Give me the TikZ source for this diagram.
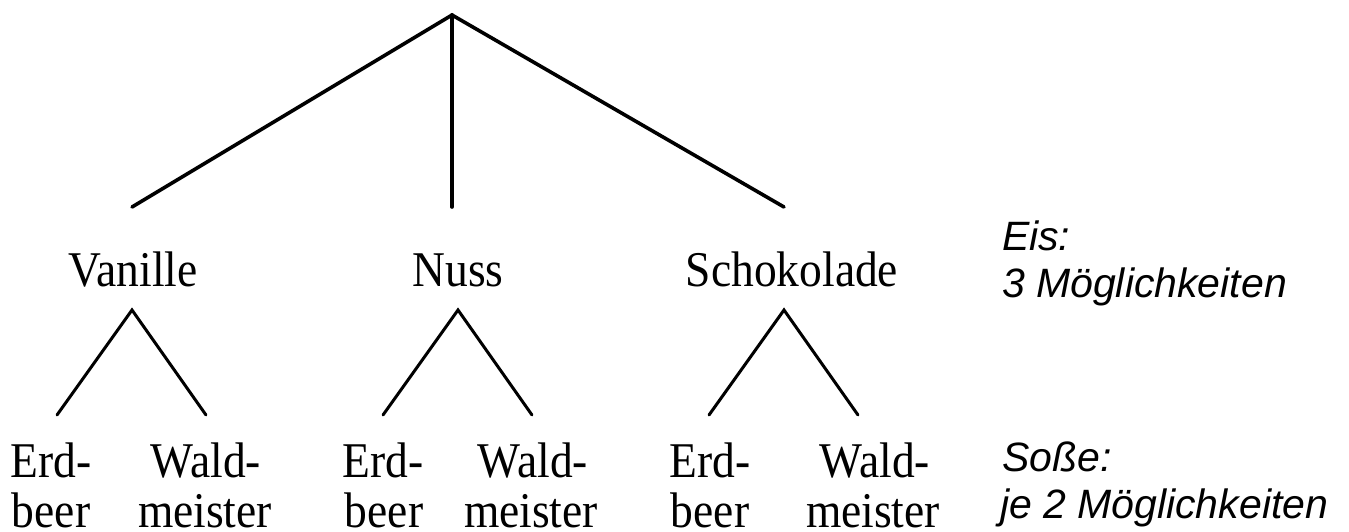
\documentclass[tikz,border=0pt]{standalone}
\usepackage{fontspec}
\setmainfont{Liberation Serif}
\newfontfamily\treefont[FakeStretch=0.91]{Liberation Serif}
\newfontfamily\labelsans{Liberation Sans}
\begin{document}
\begin{tikzpicture}[x=1pt,y=-1pt,
  every node/.style={inner sep=0pt, outer sep=0pt},
  flav/.style={anchor=base, font=\treefont\fontsize{50}{51}\selectfont},
  note/.style={anchor=base west, font=\labelsans\itshape\fontsize{41}{47}\selectfont},
  topline/.style={line width=3.6pt, line cap=round, line join=miter},
  subline/.style={line width=3pt, line cap=round}]
\useasboundingbox[fill=white] (0,0) rectangle (1349,531);
% upper tree
\coordinate (root) at (452,15);
\coordinate (vE) at (132,207);
\coordinate (nE) at (452,207);
\coordinate (sE) at (784,207);
\draw[topline] (vE) -- (root) -- (sE);
\draw[topline] (root) -- (nE);
% ice labels
\node[flav] (van) at (133,286) {Vanille};
\node[flav] (nus) at (458,286) {Nuss};
\node[flav] (sch) at (792,286) {Schokolade};
% sub trees
\coordinate (vA) at (132,310);
\coordinate (vL) at (57,415);
\coordinate (vR) at (206,415);
\coordinate (nA) at (458,310);
\coordinate (nL) at (383,415);
\coordinate (nR) at (532,415);
\coordinate (sA) at (784,310);
\coordinate (sL) at (709,415);
\coordinate (sR) at (858,415);
\draw[subline] (vL) -- (vA) -- (vR);
\draw[subline] (nL) -- (nA) -- (nR);
\draw[subline] (sL) -- (sA) -- (sR);
% sauce labels
\node[flav] (ve1) at (51,477) {Erd-};
\node[flav] (ve2) at (51,527) {beer};
\node[flav] (vw1) at (206,477) {Wald-};
\node[flav] (vw2) at (205,527) {meister};
\node[flav] (ne1) at (383,477) {Erd-};
\node[flav] (ne2) at (384,527) {beer};
\node[flav] (nw1) at (533,477) {Wald-};
\node[flav] (nw2) at (531,527) {meister};
\node[flav] (se1) at (710,477) {Erd-};
\node[flav] (se2) at (710,527) {beer};
\node[flav] (sw1) at (875,477) {Wald-};
\node[flav] (sw2) at (873,527) {meister};
% notes
\node[note] (eis1) at (1002,250) {Eis:};
\node[note] (eis2) at (1002,297) {3 Möglichkeiten};
\node[note] (sos1) at (1002,471) {Soße:};
\node[note] (sos2) at (1000,518) {je 2 Möglichkeiten};
\end{tikzpicture}
\end{document}
